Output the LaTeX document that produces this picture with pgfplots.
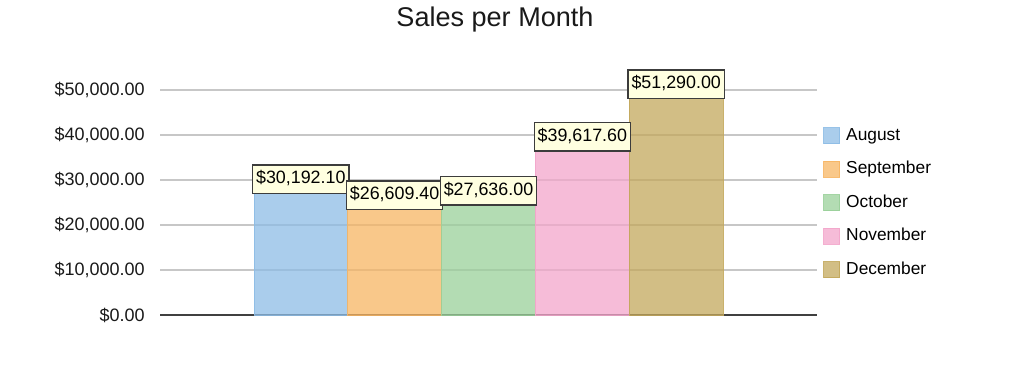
\documentclass[border=0pt]{standalone}
\usepackage{pgfplots}
\pgfplotsset{compat=1.18}
\usepackage{fontspec}
\setmainfont{Liberation Sans}
\definecolor{cAug}{RGB}{141,188,229}
\definecolor{cSep}{RGB}{247,181,99}
\definecolor{cOct}{RGB}{154,208,154}
\definecolor{cNov}{RGB}{243,166,203}
\definecolor{cDec}{RGB}{195,168,92}
\definecolor{lblfill}{RGB}{255,255,224}
\definecolor{lbldraw}{RGB}{60,60,60}
\begin{document}
\begin{tikzpicture}
\path[use as bounding box] (0,0) rectangle (768pt,282.75pt);
\node[font=\fontsize{20.3}{24}\selectfont, text=black!90] at (371.25pt,267.75pt) {Sales per Month};
\begin{axis}[
  at={(120pt,46.5pt)}, anchor=south west,
  scale only axis, width=492.75pt, height=202.5pt,
  xmin=-1.5, xmax=5.5, ymin=0, ymax=60000,
  ybar, bar width=1, bar shift=0pt,
  xtick=\empty,
  ytick={0,10000,20000,30000,40000,50000},
  ymajorgrids, grid style={line width=1pt, color=black!22},
  extra y ticks={0}, extra y tick labels={},
  extra y tick style={grid style={line width=1.1pt, color=black!75}},
  axis line style={draw=none},
  major tick length=0pt,
  clip=false,
  /pgf/number format/assume math mode=true,
  yticklabel={\$\pgfmathprintnumber[fixed,fixed zerofill,precision=2,1000 sep={,}]{\tick}},
  yticklabel style={font=\fontsize{13.5}{15}\selectfont, inner sep=0pt, xshift=-11.25pt, text=black!90},
  scaled y ticks=false,
  nodes near coords={\$\pgfmathprintnumber[fixed,fixed zerofill,precision=2,1000 sep={,},assume math mode=true]{\pgfplotspointmeta}},
  every node near coord/.append style={anchor=center, font=\fontsize{13.4}{15}\selectfont, fill=lblfill, fill opacity=1, draw opacity=1, draw=lbldraw, line width=1.1pt, inner xsep=2.5pt, inner ysep=0pt, text height=10pt, text depth=3pt, minimum height=21.5pt, text=black},
  legend image code/.code={\draw[#1, line width=0.8pt] (0pt,-6pt) rectangle (12pt,6pt);},
  legend style={draw=none, fill=none, inner sep=0pt, at={(1.009,0.697)}, anchor=north west,
    row sep=12.1pt, column sep=4.5pt,
    font=\fontsize{13}{15}\selectfont,
    nodes={inner sep=0pt, anchor=west, text height=10pt, text depth=3pt}},
  legend cell align=left,
]
\addplot[fill=cAug, fill opacity=0.75, draw=cAug, draw opacity=0.9, text opacity=1] coordinates {(0,30192.10)};
\addlegendentry{August}
\addplot[fill=cSep, fill opacity=0.75, draw=cSep, draw opacity=0.9, text opacity=1] coordinates {(1,26609.40)};
\addlegendentry{September}
\addplot[fill=cOct, fill opacity=0.75, draw=cOct, draw opacity=0.9, text opacity=1] coordinates {(2,27636.00)};
\addlegendentry{October}
\addplot[fill=cNov, fill opacity=0.75, draw=cNov, draw opacity=0.9, text opacity=1] coordinates {(3,39617.60)};
\addlegendentry{November}
\addplot[fill=cDec, fill opacity=0.75, draw=cDec, draw opacity=0.9, text opacity=1] coordinates {(4,51290.00)};
\addlegendentry{December}
\end{axis}
\end{tikzpicture}
\end{document}
